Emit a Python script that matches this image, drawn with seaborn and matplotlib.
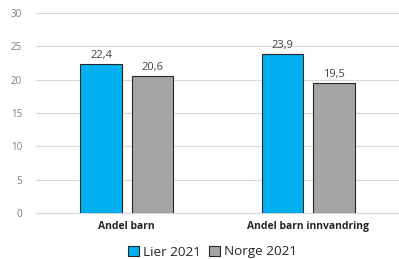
import pandas as pd
import numpy as np
import matplotlib.pyplot as plt
import seaborn as sns

categories = ["Andel barn", "Andel barn innvandring"]
lier_2021 = [22.4, 23.9]
norge_2021 = [20.6, 19.5]
series = ["Lier 2021", "Norge 2021"]
colors = ["#00B0F0", "#A5A5A5"]

data = pd.DataFrame({
    "kategori": categories * 2,
    "serie": [series[0]] * 2 + [series[1]] * 2,
    "verdi": lier_2021 + norge_2021,
})

sns.set_style("white")
plt.rcParams["font.family"] = ["Open Sans", "DejaVu Sans"]

fig = plt.figure(figsize=(3.99, 2.59), dpi=100)
ax = fig.add_axes([0.09, 0.178, 0.91, 0.772])

sns.barplot(data=data, x="kategori", y="verdi", hue="serie", palette=colors,
            saturation=1, width=0.567, gap=0.19, edgecolor="#262626", linewidth=0.8,
            ax=ax, legend=True, zorder=3)

for cont in ax.containers:
    ax.bar_label(cont, labels=[f"{v:.1f}".replace(".", ",") for v in cont.datavalues],
                 padding=2, fontsize=8, color="#404040")

ax.set_ylim(0, 30)
ax.set_yticks(range(0, 31, 5))
ax.yaxis.grid(True, color="#D9D9D9", linewidth=0.8, zorder=0)
ax.set_xlabel("")
ax.set_ylabel("")
ax.tick_params(axis="y", labelsize=7, colors="#7F7F7F", length=0, pad=10)
ax.tick_params(axis="x", labelsize=7.5, length=0, pad=6)
for lbl in ax.get_xticklabels():
    lbl.set_fontweight("bold")
    lbl.set_color("#262626")
for s in ["top", "right", "left"]:
    ax.spines[s].set_visible(False)
ax.spines["bottom"].set_color("#D9D9D9")
ax.set_xlim(-0.5, 1.5)

handles, labels = ax.get_legend_handles_labels()
ax.get_legend().remove()
fig.legend(handles, labels, loc="center", bbox_to_anchor=(0.532, 1 - 252 / 259), ncol=2,
           frameon=False, fontsize=9.7, handlelength=0.8, handleheight=0.8,
           handletextpad=0.3, columnspacing=0.6, borderaxespad=0, borderpad=0)

fig.savefig("out.png", dpi=100)
